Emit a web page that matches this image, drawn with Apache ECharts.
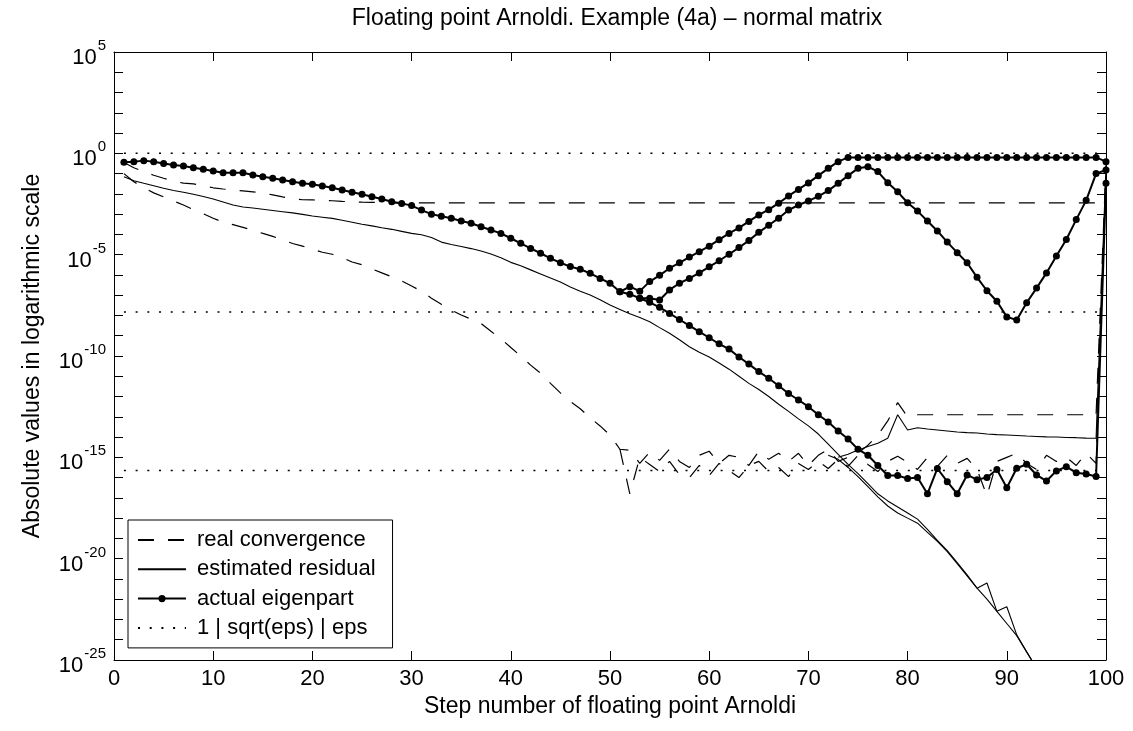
<!DOCTYPE html>
<html>
<head>
<meta charset="utf-8">
<script src="https://cdn.jsdelivr.net/npm/echarts@6/dist/echarts.min.js"></script>
<style>
html,body{margin:0;padding:0;background:#fff;}
#chart{width:1133px;height:731px;}
</style>
</head>
<body>
<div id="chart"></div>
<script>
// All y values are log10 of the plotted absolute values.
const titleText = 'Floating point Arnoldi. Example (4a) \u2013 normal matrix';
const xAxisName = 'Step number of floating point Arnoldi';
const yAxisName = 'Absolute values in logarithmic scale';
const legendNames = ['real convergence', 'estimated residual', 'actual eigenpart', '1 | sqrt(eps) | eps'];
const xTicks = [0, 10, 20, 30, 40, 50, 60, 70, 80, 90, 100];
const yLabelExponents = [-25, -20, -15, -10, -5, 0, 5];

// actual eigenpart, three curves (start step, values)
const eigMainStart = 1;
const eigMain = [
 -0.44,-0.41,-0.36,-0.41,-0.50,-0.58,-0.63,-0.71,-0.79,-0.87,
 -0.96,-0.96,-0.96,-1.07,-1.15,-1.23,-1.32,-1.40,-1.48,-1.53,
 -1.61,-1.70,-1.81,-1.92,-2.02,-2.14,-2.25,-2.39,-2.47,-2.58,
 -2.80,-3.00,-3.10,-3.20,-3.34,-3.45,-3.62,-3.78,-3.95,-4.19,
 -4.44,-4.69,-4.93,-5.18,-5.40,-5.59,-5.72,-5.92,-6.17,-6.41,
 -6.83,-6.95,-7.15,-7.35,-7.60,-7.90,-8.20,-8.50,-8.80,-9.10,
 -9.40,-9.66,-10.05,-10.40,-10.77,-11.10,-11.47,-11.85,-12.17,-12.50,
 -12.90,-13.26,-13.70,-14.10,-14.60,-14.90,-15.40,-15.90,-15.90,-16.05,
 -16.00,-16.80,-15.55,-16.20,-16.80,-15.87,-16.10,-16.00,-15.60,-16.50,
 -15.54,-15.34,-15.87,-16.17,-15.67,-15.46,-15.76,-15.82,-15.95,-1.48];
const eigBranchAStart = 51;
const eigBranchA = [
 -6.83,-6.58,-6.80,-6.33,-6.02,-5.67,-5.40,-5.12,-4.85,-4.58,
 -4.26,-3.95,-3.68,-3.36,-3.04,-2.78,-2.46,-2.10,-1.78,-1.46,
 -1.10,-0.74,-0.41,-0.20,-0.20,-0.20,-0.20,-0.20,-0.20,-0.20,
 -0.20,-0.20,-0.20,-0.20,-0.20,-0.20,-0.20,-0.20,-0.20,-0.20,
 -0.20,-0.20,-0.20,-0.20,-0.20,-0.20,-0.20,-0.20,-0.20,-0.41];
const eigBranchBStart = 53;
const eigBranchB = [
 -7.15,-7.15,-7.24,-6.74,-6.41,-6.17,-5.90,-5.60,
 -5.30,-4.98,-4.65,-4.30,-3.90,-3.55,-3.20,-2.80,-2.55,-2.35,
 -2.12,-1.84,-1.48,-1.10,-0.74,-0.66,-0.90,-1.45,-1.90,-2.44,
 -2.85,-3.34,-3.83,-4.38,-4.90,-5.40,-6.12,-6.78,-7.30,-8.07,
 -8.22,-7.37,-6.65,-5.90,-5.07,-4.25,-3.27,-2.32,-1.00,-0.82];

// real convergence, three dashed curves
const convAStart = 1;
const convA = [
 -0.45,-0.71,-0.90,-1.08,-1.23,-1.37,-1.47,-1.51,-1.60,-1.70,
 -1.76,-1.81,-1.85,-1.90,-1.96,-2.05,-2.15,-2.23,-2.29,-2.30,
 -2.31,-2.34,-2.37,-2.39,-2.41,-2.42,-2.43,-2.44,-2.44,-2.44,
 -2.44,-2.44,-2.44,-2.44,-2.44,-2.44,-2.44,-2.44,-2.44,-2.44,
 -2.44,-2.44,-2.44,-2.44,-2.44,-2.44,-2.44,-2.44,-2.44,-2.44,
 -2.44,-2.44,-2.44,-2.44,-2.44,-2.44,-2.44,-2.44,-2.44,-2.44,
 -2.44,-2.44,-2.44,-2.44,-2.44,-2.44,-2.44,-2.44,-2.44,-2.44,
 -2.44,-2.44,-2.44,-2.44,-2.44,-2.44,-2.44,-2.44,-2.44,-2.44,
 -2.44,-2.44,-2.44,-2.44,-2.44,-2.44,-2.44,-2.44,-2.44,-2.44,
 -2.44,-2.44,-2.44,-2.44,-2.44,-2.44,-2.44,-2.44,-2.44,-2.44];
const convBStart = 1;
const convB = [
 -1.00,-1.40,-1.70,-1.95,-2.15,-2.35,-2.55,-2.78,-2.98,-3.20,
 -3.40,-3.52,-3.65,-3.80,-3.95,-4.10,-4.27,-4.45,-4.58,-4.73,
 -4.88,-4.98,-5.15,-5.36,-5.50,-5.70,-5.90,-6.09,-6.30,-6.55,
 -6.80,-7.15,-7.45,-7.73,-7.98,-8.18,-8.40,-8.78,-9.15,-9.58,
 -10.00,-10.45,-10.85,-11.35,-11.82,-12.25,-12.60,-13.05,-13.45,-13.90,
 -14.60,-14.65,-15.30,-14.75,-15.15,-14.60,-15.20,-15.50,-14.90,-14.70,
 -15.30,-14.90,-15.00,-15.40,-14.70,-15.10,-14.80,-15.20,-14.80,-15.40,
 -14.90,-14.60,-15.20,-15.00,-14.80,-14.40,-13.90,-13.20,-12.30,-13.00,
 -12.90,-12.90,-12.90,-12.90,-12.90,-12.90,-12.90,-12.90,-12.90,-12.90,
 -12.90,-12.90,-12.90,-12.90,-12.90,-12.90,-12.90,-12.90,-12.90,-0.60];
const convCStart = 51;
const convC = [
 -14.60,-16.80,-15.00,-15.35,-15.70,-15.20,-15.85,-16.00,-15.40,-15.90,
 -15.30,-15.65,-16.00,-15.40,-15.20,-15.70,-15.50,-15.95,-15.30,-15.60,
 -15.20,-15.55,-15.10,-15.45,-14.90,-15.35,-15.70,-15.20,-14.95,-15.25,
 -15.60,-15.00,-15.45,-14.90,-15.30,-15.05,-15.60,-16.90,-15.20,-15.00,
 -14.80,-15.30,-15.60,-14.90,-15.20,-15.00,-15.40,-14.80,-15.30,-1.00];

// estimated residual, three solid curves
const resAStart = 1;
const resA = [
 -1.15,-1.35,-1.48,-1.60,-1.72,-1.83,-1.92,-2.02,-2.13,-2.25,
 -2.40,-2.55,-2.65,-2.70,-2.76,-2.82,-2.88,-2.94,-3.01,-3.09,
 -3.15,-3.21,-3.30,-3.40,-3.50,-3.58,-3.67,-3.75,-3.85,-3.95,
 -4.02,-4.15,-4.38,-4.50,-4.60,-4.70,-4.82,-4.97,-5.15,-5.38,
 -5.55,-5.75,-5.95,-6.15,-6.35,-6.60,-6.80,-6.99,-7.23,-7.48,
 -7.70,-7.92,-8.10,-8.31,-8.60,-8.88,-9.20,-9.54,-9.82,-10.05,
 -10.35,-10.65,-11.00,-11.35,-11.65,-12.00,-12.38,-12.73,-13.10,-13.45,
 -13.85,-14.35,-14.85,-15.35,-15.80,-16.30,-16.80,-17.15,-17.45,-17.75,
 -18.05,-18.55,-19.10,-19.60,-20.20,-20.80,-21.45,-22.00,-22.60,-23.20,
 -23.80,-24.60,-25.40];
const resBStart = 72;
const resB = [
 -14.90,-15.10,-15.50,-15.95,-16.45,-16.95,-17.40,-17.75,-18.00,
 -18.25,-18.70,-19.15,-19.65,-20.25,-20.85,-21.46,-21.20,-22.60,-22.37,
 -23.76,-24.60,-25.40];
const resCStart = 73;
const resC = [
 -15.00,-14.85,-14.64,-14.47,-14.30,-14.06,-12.90,-13.65,
 -13.54,-13.60,-13.65,-13.70,-13.75,-13.78,-13.80,-13.85,-13.88,-13.90,
 -13.92,-13.95,-13.97,-13.99,-14.00,-14.02,-14.03,-14.05,-14.06,-0.60];

// reference levels: 1, sqrt(eps), eps
const refSteps = [1, 100];
const refLevels = [0, -7.83, -15.65];

function pairs(start, vals) { return vals.map((v, i) => [start + i, v]); }

const FONT = 'Liberation Sans, Arial, Helvetica, sans-serif';
const FS = 22;
const FS_NAME = 23;
const dashPattern = [16, 14];
const dotPattern = [2, 9.7];

const series = [];
function addLine(name, data, opts) {
  series.push(Object.assign({
    type: 'line', name: name, data: data, showSymbol: false, symbol: 'none',
    clip: true, silent: true, animation: false,
    lineStyle: {color: '#000', width: 1.1}
  }, opts));
}
// real convergence (dashed)
[[convAStart, convA], [convBStart, convB], [convCStart, convC]].forEach(function (c) {
  addLine(legendNames[0], pairs(c[0], c[1]), {lineStyle: {color: '#000', width: 1.2, type: dashPattern}, itemStyle: {color: '#000'}});
});
// estimated residual (solid)
[[resAStart, resA], [resBStart, resB], [resCStart, resC]].forEach(function (c) {
  addLine(legendNames[1], pairs(c[0], c[1]), {lineStyle: {color: '#000', width: 1.1, type: 'solid'}, itemStyle: {color: '#000'}});
});
// reference lines (dotted)
refLevels.forEach(function (lv) {
  addLine(legendNames[3], refSteps.map(s => [s, lv]), {lineStyle: {color: '#000', width: 1.5, type: dotPattern}, itemStyle: {color: '#000'}});
});
// actual eigenpart (solid with dots)
[[eigMainStart, eigMain], [eigBranchAStart, eigBranchA], [eigBranchBStart, eigBranchB]].forEach(function (c) {
  addLine(legendNames[2], pairs(c[0], c[1]), {
    showSymbol: true, symbol: 'circle', symbolSize: 7,
    itemStyle: {color: '#000'}, lineStyle: {color: '#000', width: 2, type: 'solid'}
  });
});

const noSymbol = {color: 'rgba(0,0,0,0)', borderWidth: 0, borderColor: 'rgba(0,0,0,0)'};
const chart = echarts.init(document.getElementById('chart'), null, {renderer: 'canvas'});
const axisCommon = {
  axisLine: {show: true, onZero: false, lineStyle: {color: '#000', width: 1}},
  axisTick: {show: true, inside: true, length: 9, lineStyle: {color: '#000', width: 1}},
  splitLine: {show: false}
};
chart.setOption({
  animation: false,
  backgroundColor: '#fff',
  title: {
    text: titleText, left: 612, top: 2, textAlign: 'center',
    textStyle: {fontFamily: FONT, fontSize: FS_NAME, fontWeight: 'normal', color: '#000'}
  },
  grid: {left: 114, top: 52, width: 992, height: 608, containLabel: false},
  legend: {
    data: [
      {name: legendNames[0], itemStyle: noSymbol},
      {name: legendNames[1], itemStyle: noSymbol},
      {name: legendNames[2]},
      {name: legendNames[3], itemStyle: noSymbol}
    ],
    orient: 'vertical', left: 128, top: 520,
    itemWidth: 48, itemHeight: 9, itemGap: 7.3,
    padding: [9, 17, 9, 9],
    borderColor: '#000', borderWidth: 1, backgroundColor: '#fff',
    textStyle: {fontFamily: FONT, fontSize: FS, color: '#000', padding: [0, 0, 0, 6], lineHeight: 22},
    selectedMode: false
  },
  xAxis: [
    Object.assign({}, axisCommon, {
      type: 'value', min: xTicks[0], max: xTicks[xTicks.length - 1], interval: 10, position: 'bottom',
      name: xAxisName, nameLocation: 'middle', nameGap: 34,
      nameTextStyle: {fontFamily: FONT, fontSize: FS_NAME, color: '#000'},
      axisLabel: {fontFamily: FONT, fontSize: FS, color: '#000', margin: 8}
    }),
    Object.assign({}, axisCommon, {
      type: 'value', min: xTicks[0], max: xTicks[xTicks.length - 1], interval: 10, position: 'top',
      axisLabel: {show: false}
    })
  ],
  yAxis: [
    Object.assign({}, axisCommon, {
      type: 'value', min: yLabelExponents[0], max: yLabelExponents[yLabelExponents.length - 1], interval: 1, position: 'left',
      name: yAxisName, nameLocation: 'middle', nameGap: 70,
      nameTextStyle: {fontFamily: FONT, fontSize: FS_NAME, color: '#000'},
      axisLabel: {
        margin: 8, color: '#000',
        formatter: function (v) {
          if (yLabelExponents.indexOf(v) < 0) return '';
          return '{b|10}{s|' + v + '}';
        },
        rich: {
          b: {fontFamily: FONT, fontSize: FS, color: '#000', padding: [12, 0, 0, 0]},
          s: {fontFamily: FONT, fontSize: 15, color: '#000', padding: [0, 0, 12, 1]}
        }
      }
    }),
    Object.assign({}, axisCommon, {
      type: 'value', min: yLabelExponents[0], max: yLabelExponents[yLabelExponents.length - 1], interval: 1, position: 'right',
      axisLabel: {show: false}
    })
  ],
  series: series
});
</script>
</body>
</html>
